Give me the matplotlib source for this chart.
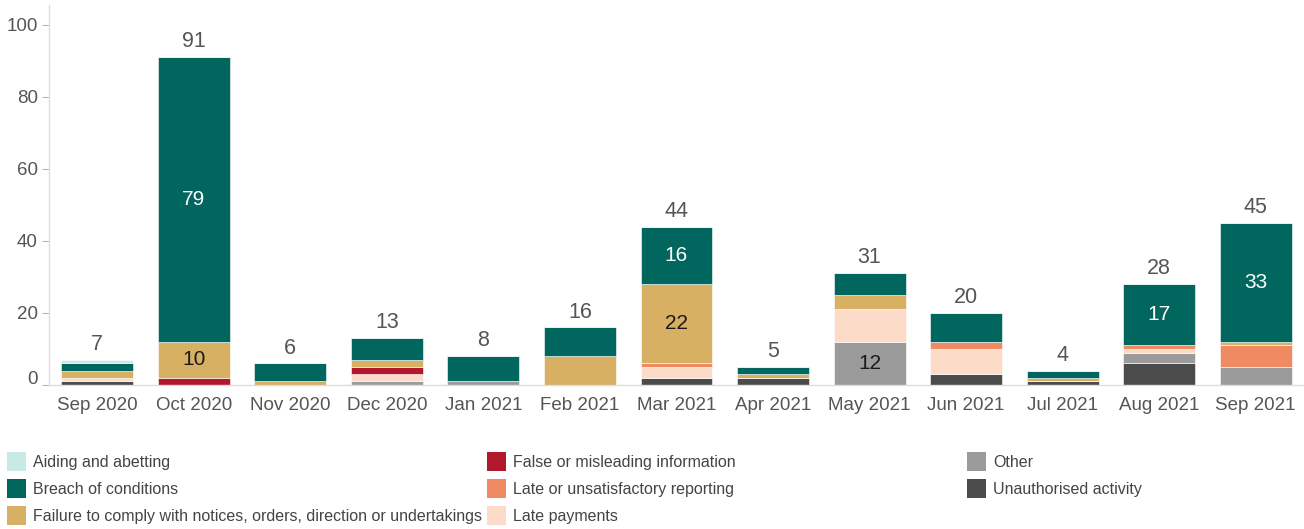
import matplotlib
matplotlib.use("Agg")
import matplotlib.pyplot as plt
import matplotlib.transforms as mtransforms
from matplotlib.patches import Rectangle
import numpy as np

plt.rcParams['font.family'] = ['Liberation Sans', 'DejaVu Sans']

months = ["Sep 2020", "Oct 2020", "Nov 2020", "Dec 2020", "Jan 2021", "Feb 2021",
          "Mar 2021", "Apr 2021", "May 2021", "Jun 2021", "Jul 2021", "Aug 2021", "Sep 2021"]

# stacked bottom -> top
unauthorised = [1, 0, 0, 0, 0, 0, 2, 2, 0, 3, 1, 6, 0]
other        = [0, 0, 0, 1, 1, 0, 0, 0, 12, 0, 0, 3, 5]
late_pay     = [1, 0, 0, 2, 0, 0, 3, 0, 9, 7, 0, 1, 0]
late_rep     = [0, 0, 0, 0, 0, 0, 1, 0, 0, 2, 0, 1, 6]
false_info   = [0, 2, 0, 2, 0, 0, 0, 0, 0, 0, 0, 0, 0]
failure      = [2, 10, 1, 2, 0, 8, 22, 1, 4, 0, 1, 0, 1]
breach       = [2, 79, 5, 6, 7, 8, 16, 2, 6, 8, 2, 17, 33]
aiding       = [1, 0, 0, 0, 0, 0, 0, 0, 0, 0, 0, 0, 0]

series = [
    ("Unauthorised activity", unauthorised, "#4b4b4b", "white"),
    ("Other", other, "#9b9b9b", "#1a1a1a"),
    ("Late payments", late_pay, "#fcdcc8", "#1a1a1a"),
    ("Late or unsatisfactory reporting", late_rep, "#ef8a62", "#1a1a1a"),
    ("False or misleading information", false_info, "#b2182b", "white"),
    ("Failure to comply with notices, orders, direction or undertakings", failure, "#d8b063", "#1a1a1a"),
    ("Breach of conditions", breach, "#01665e", "white"),
    ("Aiding and abetting", aiding, "#c7eae5", "#1a1a1a"),
]
colors = {name: c for name, _, c, _ in series}

W, H = 1304, 529
fig = plt.figure(figsize=(W/100, H/100), dpi=100)
ax = fig.add_axes([49/W, 1-385/H, 1-49/W, (385-5)/H])

x = np.arange(len(months))
width = 0.745
bottom = np.zeros(len(months))
for name, vals, col, tcol in series:
    vals = np.array(vals, dtype=float)
    ax.bar(x, vals, width, bottom=bottom, color=col, edgecolor="white", linewidth=0.4, label=name)
    for i, v in enumerate(vals):
        if v >= 10:
            ax.text(x[i], bottom[i] + v/2, f"{int(v)}", ha="center", va="center",
                    fontsize=15, color=tcol)
    bottom += vals

for i, t in enumerate(bottom):
    ax.annotate(f"{int(t)}", (x[i], t), xytext=(0, 3.5), textcoords="offset points",
                ha="center", va="bottom", fontsize=15.5, color="#555555")

ax.set_xlim(-0.5, len(months) - 0.5)
ax.set_ylim(0, 105.5)
ax.set_yticks([0, 20, 40, 60, 80, 100])
ax.set_xticks(x)
ax.set_xticklabels(months)
ax.tick_params(axis="x", length=0, pad=9, labelsize=13.5, labelcolor="#555555")
ax.tick_params(axis="y", length=5, width=0.8, color="#bbbbbb", pad=3, labelsize=13.5, labelcolor="#555555")

for s in ["top", "right"]:
    ax.spines[s].set_visible(False)
for s in ["left", "bottom"]:
    ax.spines[s].set_color("#dddddd")
    ax.spines[s].set_linewidth(1.0)

# lift the "0" label a little
lab0 = ax.get_yticklabels()[0]
lab0.set_transform(lab0.get_transform() + mtransforms.ScaledTranslation(0, 7/100, fig.dpi_scale_trans))

# legend: three evenly spaced columns, square swatches
legend_cols = [
    ["Aiding and abetting", "Breach of conditions",
     "Failure to comply with notices, orders, direction or undertakings"],
    ["False or misleading information", "Late or unsatisfactory reporting", "Late payments"],
    ["Other", "Unauthorised activity"],
]
col_x = [7, 487, 967]
row_top = 452
row_pitch = 27
sw = 19
for cx, names in zip(col_x, legend_cols):
    for r, n in enumerate(names):
        top = row_top + r * row_pitch
        fig.add_artist(Rectangle((cx / W, 1 - (top + sw) / H), sw / W, sw / H,
                                 transform=fig.transFigure, facecolor=colors[n],
                                 edgecolor="none"))
        fig.text((cx + sw + 7) / W, 1 - (top + sw / 2 + 1) / H, n, ha="left", va="center",
                 fontsize=11.5, color="#444444")

fig.savefig("out.png", dpi=100)
